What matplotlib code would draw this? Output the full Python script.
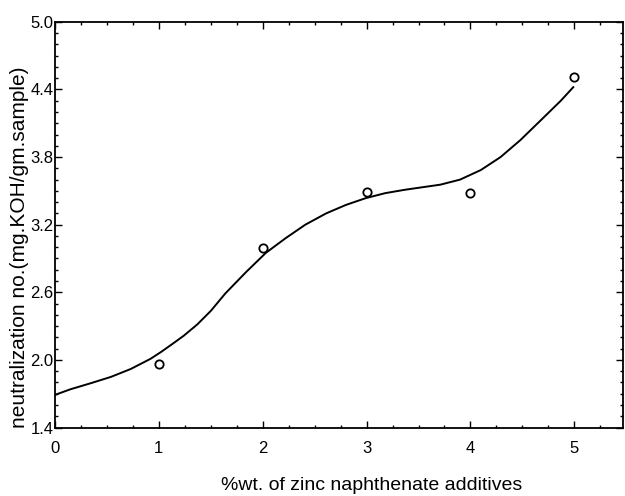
import matplotlib.pyplot as plt
from matplotlib.ticker import MultipleLocator

# measured points
zinc_pct = [1, 2, 3, 4, 5]
neut_no = [1.96, 2.99, 3.49, 3.48, 4.51]

# fitted curve
curve_x = [0.00, 0.15, 0.35, 0.54, 0.73, 0.92, 1.02, 1.12, 1.24, 1.37, 1.50, 1.64,
           1.84, 2.03, 2.22, 2.41, 2.61, 2.80, 2.99, 3.18, 3.37, 3.52, 3.71, 3.90,
           4.10, 4.29, 4.48, 4.67, 4.87, 4.99]
curve_y = [1.69, 1.74, 1.795, 1.85, 1.92, 2.01, 2.07, 2.135, 2.215, 2.315, 2.435, 2.59,
           2.78, 2.95, 3.08, 3.20, 3.30, 3.375, 3.435, 3.48, 3.51, 3.53, 3.555, 3.60,
           3.685, 3.80, 3.95, 4.12, 4.30, 4.42]

plt.rcParams['font.family'] = ['Liberation Sans', 'DejaVu Sans']

fig = plt.figure(figsize=(6.25, 4.96), dpi=100)
ax = fig.add_axes([0.088, 0.138, 0.909, 0.818])

ax.plot(curve_x, curve_y, color='black', lw=1.4)
ax.plot(zinc_pct, neut_no, 'o', ms=6, mfc='white', mec='black', mew=1.3, clip_on=False)

ax.set_xlim(0, 5.47)
ax.set_ylim(1.4, 5.0)
ax.xaxis.set_major_locator(MultipleLocator(1))
ax.xaxis.set_minor_locator(MultipleLocator(0.25))
ax.yaxis.set_minor_locator(MultipleLocator(0.1))
ax.set_yticks([1.4, 2.0, 2.6, 3.2, 3.8, 4.4, 5.0])
ax.set_yticklabels(['1.4', '2.0', '2.6', '3.2', '3.8', '4.4', '5.0'])
ax.tick_params(which='both', direction='in', top=True, right=True, width=1)
ax.tick_params(which='major', length=5)
ax.tick_params(which='minor', length=2.5)
ax.tick_params(axis='x', which='major', pad=10, labelsize=12)
ax.tick_params(axis='y', which='major', pad=1, labelsize=12)
for s in ax.spines.values():
    s.set_linewidth(1.3)

fig.text(0.594, 0.022, '%wt. of zinc naphthenate additives', fontsize=14,
         ha='center', va='center')
fig.text(0.032, 0.502, 'neutralization no.(mg.KOH/gm.sample)', fontsize=15,
         ha='center', va='center', rotation=90)

fig.savefig('out.png', dpi=100)
